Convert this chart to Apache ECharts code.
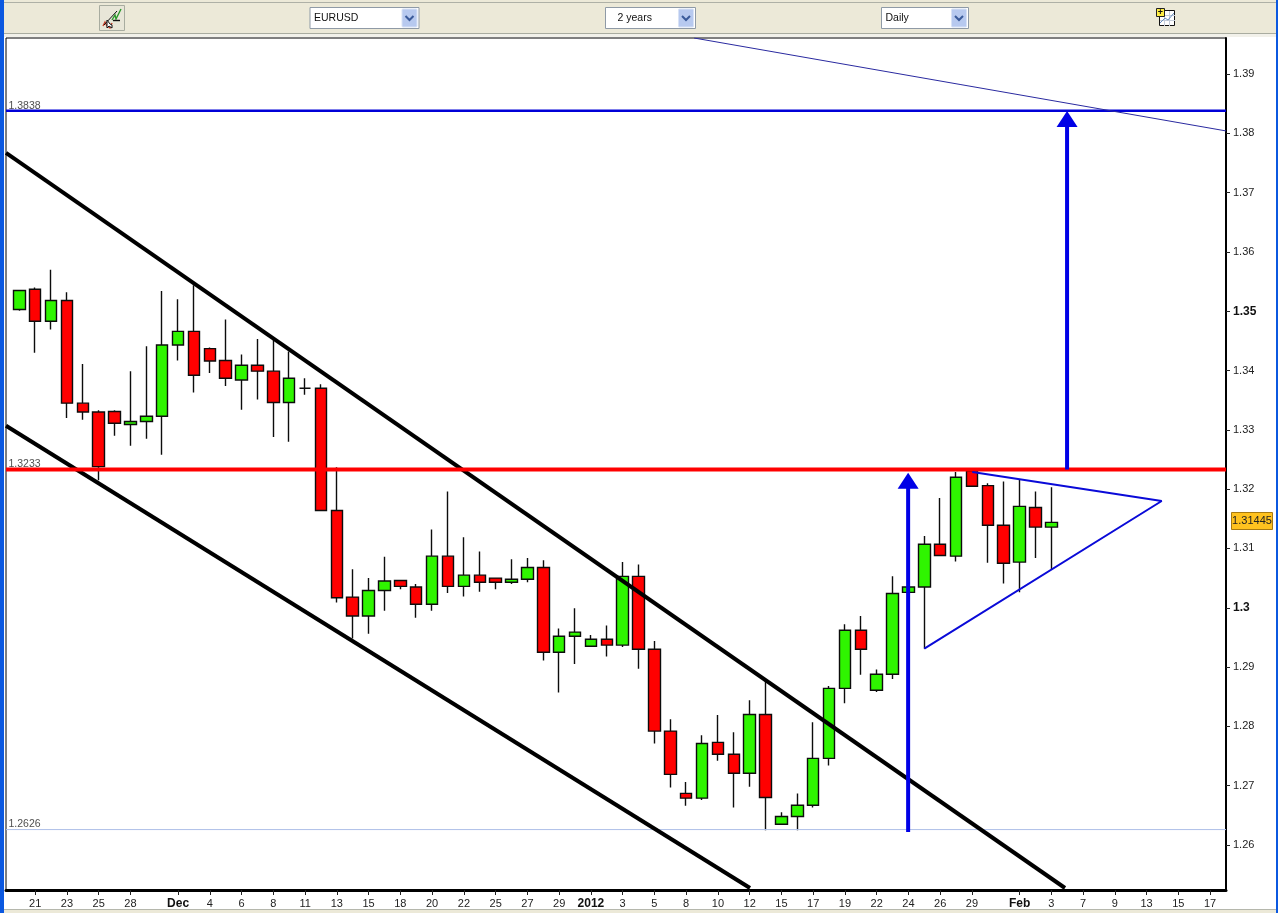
<!DOCTYPE html>
<html><head><meta charset="utf-8">
<style>html,body{margin:0;padding:0;background:#fff}#c{width:1278px;height:913px}</style>
<script src="https://cdn.jsdelivr.net/npm/echarts@6/dist/echarts.min.js"></script>
</head><body><div id="c"></div>
<script>
const opens  = [1.3503,1.3537,1.3483,1.3518,1.3345,1.3330,1.3331,1.3309,1.3314,1.3323,1.3443,1.3466,1.3437,1.3417,1.3384,1.3409,1.3399,1.3346,1.3370,1.3370,1.3164,1.3018,1.2986,1.3029,1.3046,1.3035,1.3006,1.3087,1.3036,1.3055,1.3050,1.3043,1.3048,1.3068,1.2925,1.2952,1.2935,1.2947,1.2937,1.3053,1.2930,1.2792,1.2687,1.2679,1.2773,1.2753,1.2721,1.2820,1.2635,1.2648,1.2667,1.2746,1.2864,1.2962,1.2861,1.2888,1.3026,1.3035,1.3107,1.3087,1.3231,1.3206,1.3139,1.3077,1.3169,1.3136];
const closes = [1.3535,1.3483,1.3518,1.3345,1.3330,1.3238,1.3311,1.3314,1.3323,1.3443,1.3466,1.3392,1.3416,1.3387,1.3409,1.3399,1.3346,1.3387,1.3370,1.3164,1.3017,1.2986,1.3029,1.3045,1.3036,1.3006,1.3087,1.3036,1.3055,1.3043,1.3043,1.3048,1.3068,1.2925,1.2952,1.2959,1.2947,1.2937,1.3053,1.2930,1.2792,1.2719,1.2679,1.2771,1.2753,1.2721,1.2820,1.2680,1.2648,1.2667,1.2746,1.2864,1.2962,1.2930,1.2888,1.3024,1.3035,1.3107,1.3088,1.3220,1.3205,1.3139,1.3075,1.3171,1.3136,1.3144];
const lows   = [1.3501,1.3430,1.3469,1.3320,1.3317,1.3215,1.3290,1.3273,1.3285,1.3258,1.3417,1.3363,1.3396,1.3374,1.3334,1.3351,1.3288,1.3280,1.3359,1.3163,1.3009,1.2948,1.2956,1.2995,1.3031,1.2983,1.2995,1.3025,1.3019,1.3027,1.3031,1.3040,1.3043,1.2911,1.2857,1.2905,1.2935,1.2918,1.2934,1.2897,1.2771,1.2697,1.2666,1.2676,1.2742,1.2663,1.2698,1.2625,1.2635,1.2625,1.2663,1.2734,1.2839,1.2887,1.2858,1.2880,1.3026,1.2931,1.3088,1.3078,1.3205,1.3076,1.3041,1.3026,1.3084,1.3065];
const highs  = [1.3535,1.3540,1.3570,1.3532,1.3411,1.3333,1.3333,1.3399,1.3441,1.3534,1.3520,1.3544,1.3439,1.3486,1.3427,1.3453,1.3453,1.3432,1.3387,1.3377,1.3237,1.3065,1.3050,1.3086,1.3047,1.3040,1.3132,1.3196,1.3119,1.3095,1.3051,1.3082,1.3084,1.3080,1.2965,1.2999,1.2954,1.2970,1.3077,1.3073,1.2944,1.2812,1.2706,1.2785,1.2819,1.2790,1.2844,1.2878,1.2655,1.2687,1.2807,1.2868,1.2972,1.2986,1.2896,1.3053,1.3035,1.3121,1.3185,1.3229,1.3235,1.3210,1.3213,1.3217,1.3196,1.3203];

const tickIdx    = [1,3,5,7,10,12,14,16,18,20,22,24,26,28,30,32,34,36,38,40,42,44,46,48,50,52,54,56,58,60,63,65,67,69,71,73,75];
const tickLabels = ['21','23','25','28','Dec','4','6','8','11','13','15','18','20','22','25','27','29','2012','3','5','8','10','12','15','17','19','22','24','26','29','Feb','3','7','9','13','15','17'];
const boldLabels = ['Dec','2012','Feb','1.35','1.3'];
const yTicks = [1.26,1.27,1.28,1.29,1.30,1.31,1.32,1.33,1.34,1.35,1.36,1.37,1.38,1.39];

const xMin=-0.838, xMax=76.0, yMin=1.25241, yMax=1.39607, channelEnd=1.25275;
const levelHigh=1.3838, levelMid=1.3233, levelLow=1.2626;
const upperChannel=[[xMin,1.3767],[65.86,channelEnd]];
const lowerChannel=[[xMin,1.3307],[46.02,channelEnd]];
const farTrend=[[42.5,yMax],[xMax,1.3804]];
const triangle=[[57.0,1.2931],[71.95,1.3180],[60.02,1.3229]];
const arrowUp1=[[55.98,1.2622],[55.98,1.3205]];
const arrowUp2=[[65.99,1.3233],[65.99,1.3815]];
const arrowHeads=[[55.98,1.3214],[65.99,1.3824]];
const lastPrice='1.31445', lastPriceVal=1.31445;

const candles=opens.map((o,i)=>[i,o,closes[i],lows[i],highs[i]]);
const font='"Liberation Sans",Arial,sans-serif';
const BLUE='#0000e6';
const line=(data,color,width,z)=>({type:'line',data,symbol:'none',silent:true,animation:false,clip:true,z,lineStyle:{color,width}});

const chart=echarts.init(document.getElementById('c'),null,{renderer:'canvas'});
const rich={n:{fontFamily:font,fontSize:11,color:'#222'},b:{fontFamily:font,fontSize:12,fontWeight:'bold',color:'#111'}};
const fmt=s=>boldLabels.includes(s)?'{b|'+s+'}':'{n|'+s+'}';
const base={
  animation:false,
  backgroundColor:'#ffffff',
  grid:{left:6,right:52,top:38,height:852,show:true,backgroundColor:'#fff',borderColor:'#000',borderWidth:1},
  xAxis:{type:'value',min:xMin,max:xMax,splitLine:{show:false},
    axisLine:{show:true,onZero:false,lineStyle:{color:'#000',width:3}},
    axisTick:{show:true,length:5,customValues:tickIdx,lineStyle:{color:'#222',width:1}},
    axisLabel:{customValues:tickIdx,margin:8,hideOverlap:false,showMinLabel:true,showMaxLabel:true,rich,
      formatter:v=>fmt(tickLabels[tickIdx.indexOf(Math.round(v))]||'')}},
  yAxis:{type:'value',position:'right',min:yMin,max:yMax,splitLine:{show:false},
    axisLine:{show:true,onZero:false,lineStyle:{color:'#000',width:2}},
    axisTick:{show:true,length:4,customValues:yTicks,lineStyle:{color:'#222',width:1}},
    axisLabel:{customValues:yTicks,margin:7,hideOverlap:false,rich,
      formatter:v=>fmt(String(+(+v).toFixed(2)))}},
  series:[
    {type:'candlestick',data:candles,encode:{x:0,y:[1,2,3,4]},barWidth:12,z:3,silent:true,
      itemStyle:{color:'#2ff500',color0:'#ff0000',borderColor:'#0c0c0c',borderColor0:'#0c0c0c',borderColorDoji:'#0c0c0c',borderWidth:1.4}},
    line([[xMin,levelLow],[xMax,levelLow]],'#aebfe8',1,4),
    line(upperChannel,'#000',4,5),
    line(lowerChannel,'#000',4,5),
    line([[xMin,levelMid],[xMax,levelMid]],'#ff0000',4,6),
    line([[xMin,levelHigh],[xMax,levelHigh]],'#0000d8',2.5,6),
    line(farTrend,'#2a2aa0',1,6),
    line(triangle,'#0a0ad8',2,7),
    line(arrowUp1,BLUE,4,8),
    line(arrowUp2,BLUE,4,8),
    {type:'scatter',data:arrowHeads,symbol:'triangle',symbolSize:[21,16],z:9,silent:true,itemStyle:{color:BLUE,opacity:1}},
    {type:'scatter',z:9,silent:true,symbolSize:1,clip:false,itemStyle:{color:'rgba(0,0,0,0)'},
      data:[[xMin,levelHigh],[xMin,levelMid],[xMin,levelLow]],
      label:{show:true,position:'right',offset:[-3,-5],color:'#222',fontFamily:font,fontSize:10.5,
        formatter:p=>p.value[1].toFixed(4)}}
  ]
};
chart.setOption(base);

function button(x,y,w,h){
  return [
   {type:'rect',shape:{x,y,width:w,height:h,r:1},style:{fill:'#b7c9ef',stroke:'#d8e2f6',lineWidth:1}},
   {type:'polyline',shape:{points:[[x+w/2-4,y+h/2-2],[x+w/2,y+h/2+2],[x+w/2+4,y+h/2-2]]},style:{stroke:'#3a5a9a',lineWidth:2,fill:null}}
  ];
}
function combo(x,w,label,pad){
  return [
   {type:'rect',shape:{x,y:7.5,width:w,height:21},style:{fill:'#fff',stroke:'#8f9aa6',lineWidth:1}},
   {type:'text',x:x+pad,y:18,style:{text:label,font:'10.5px '+font,fill:'#111',textVerticalAlign:'middle'}},
   ...button(x+w-17,9,15,18)
  ];
}
const tagY=chart.convertToPixel({yAxisIndex:0},lastPriceVal);
const gridLines=[];
for(const k of [5,10]){
  gridLines.push({type:'polyline',shape:{points:[[1159.5+k,11],[1159.5+k,26]]},style:{stroke:'#c4ccd8',lineWidth:1,fill:null}});
  gridLines.push({type:'polyline',shape:{points:[[1160,10.5+k],[1175,10.5+k]]},style:{stroke:'#c4ccd8',lineWidth:1,fill:null}});
}
const elements=[
  {type:'rect',shape:{x:0,y:0,width:1278,height:33},style:{fill:'#ece9d8'}},
  {type:'rect',shape:{x:0,y:2,width:1278,height:1},style:{fill:'#aeb0a6'}},
  {type:'rect',shape:{x:0,y:33,width:1278,height:1},style:{fill:'#a9aca0'}},
  {type:'rect',shape:{x:0,y:34,width:1278,height:3},style:{fill:'#f2f1ea'}},
  {type:'rect',shape:{x:0,y:910,width:1278,height:3},style:{fill:'#ece9d8'}},
  {type:'rect',shape:{x:0,y:909,width:1278,height:1},style:{fill:'#b5b7ac'}},
  {type:'rect',shape:{x:0,y:0,width:4,height:913},style:{fill:'#0b58e0'}},
  {type:'rect',shape:{x:1276,y:0,width:2,height:913},style:{fill:'#0b58e0'}},
  {type:'rect',shape:{x:99.5,y:5.5,width:25,height:25},style:{fill:'#e8e6d8',stroke:'#a8aca0',lineWidth:1}},
  {type:'polyline',shape:{points:[[103,26],[105,22],[107,26],[110,28],[112,23]]},style:{stroke:'#c8402a',lineWidth:1.4,fill:null}},
  {type:'polyline',shape:{points:[[112,20],[115,15],[116,19],[121,9]]},style:{stroke:'#2a9a2a',lineWidth:1.4,fill:null}},
  {type:'polyline',shape:{points:[[104,25],[117,11]]},style:{stroke:'#111',lineWidth:1,fill:null}},
  {type:'polyline',shape:{points:[[113,20.5],[120,20.5]]},style:{stroke:'#111',lineWidth:1.4,fill:null}},
  {type:'polygon',shape:{points:[[107,20],[107,28],[109,26],[112,28],[112,25],[110,24]]},style:{fill:'#fff',stroke:'#111',lineWidth:1}},
  ...combo(310,109,'EURUSD',4),
  ...combo(605.5,90,'2 years',12),
  ...combo(881.5,87,'Daily',4),
  {type:'rect',shape:{x:1159.5,y:10.5,width:15,height:15},style:{fill:'#fff',stroke:'#111',lineWidth:1}},
  ...gridLines,
  {type:'polyline',shape:{points:[[1160,23],[1165,18],[1168,20],[1174,13]]},style:{stroke:'#6a8fc0',lineWidth:1,fill:null}},
  {type:'rect',shape:{x:1156.5,y:8.5,width:8,height:8},style:{fill:'#ffee44',stroke:'#222',lineWidth:1}},
  {type:'text',x:1160.5,y:12.5,style:{text:'+',font:'bold 9px '+font,fill:'#111',textAlign:'center',textVerticalAlign:'middle'}},
  {type:'rect',shape:{x:1231.5,y:Math.round(tagY)-9.5,width:41,height:17},style:{fill:'#ffc21f',stroke:'#a87a10',lineWidth:1}},
  {type:'text',x:1252,y:Math.round(tagY)-1,style:{text:lastPrice,font:'11px '+font,fill:'#222',textAlign:'center',textVerticalAlign:'middle'}}
];
chart.setOption({graphic:{elements:elements.map(e=>({...e,silent:true,z:100}))}});
</script></body></html>
